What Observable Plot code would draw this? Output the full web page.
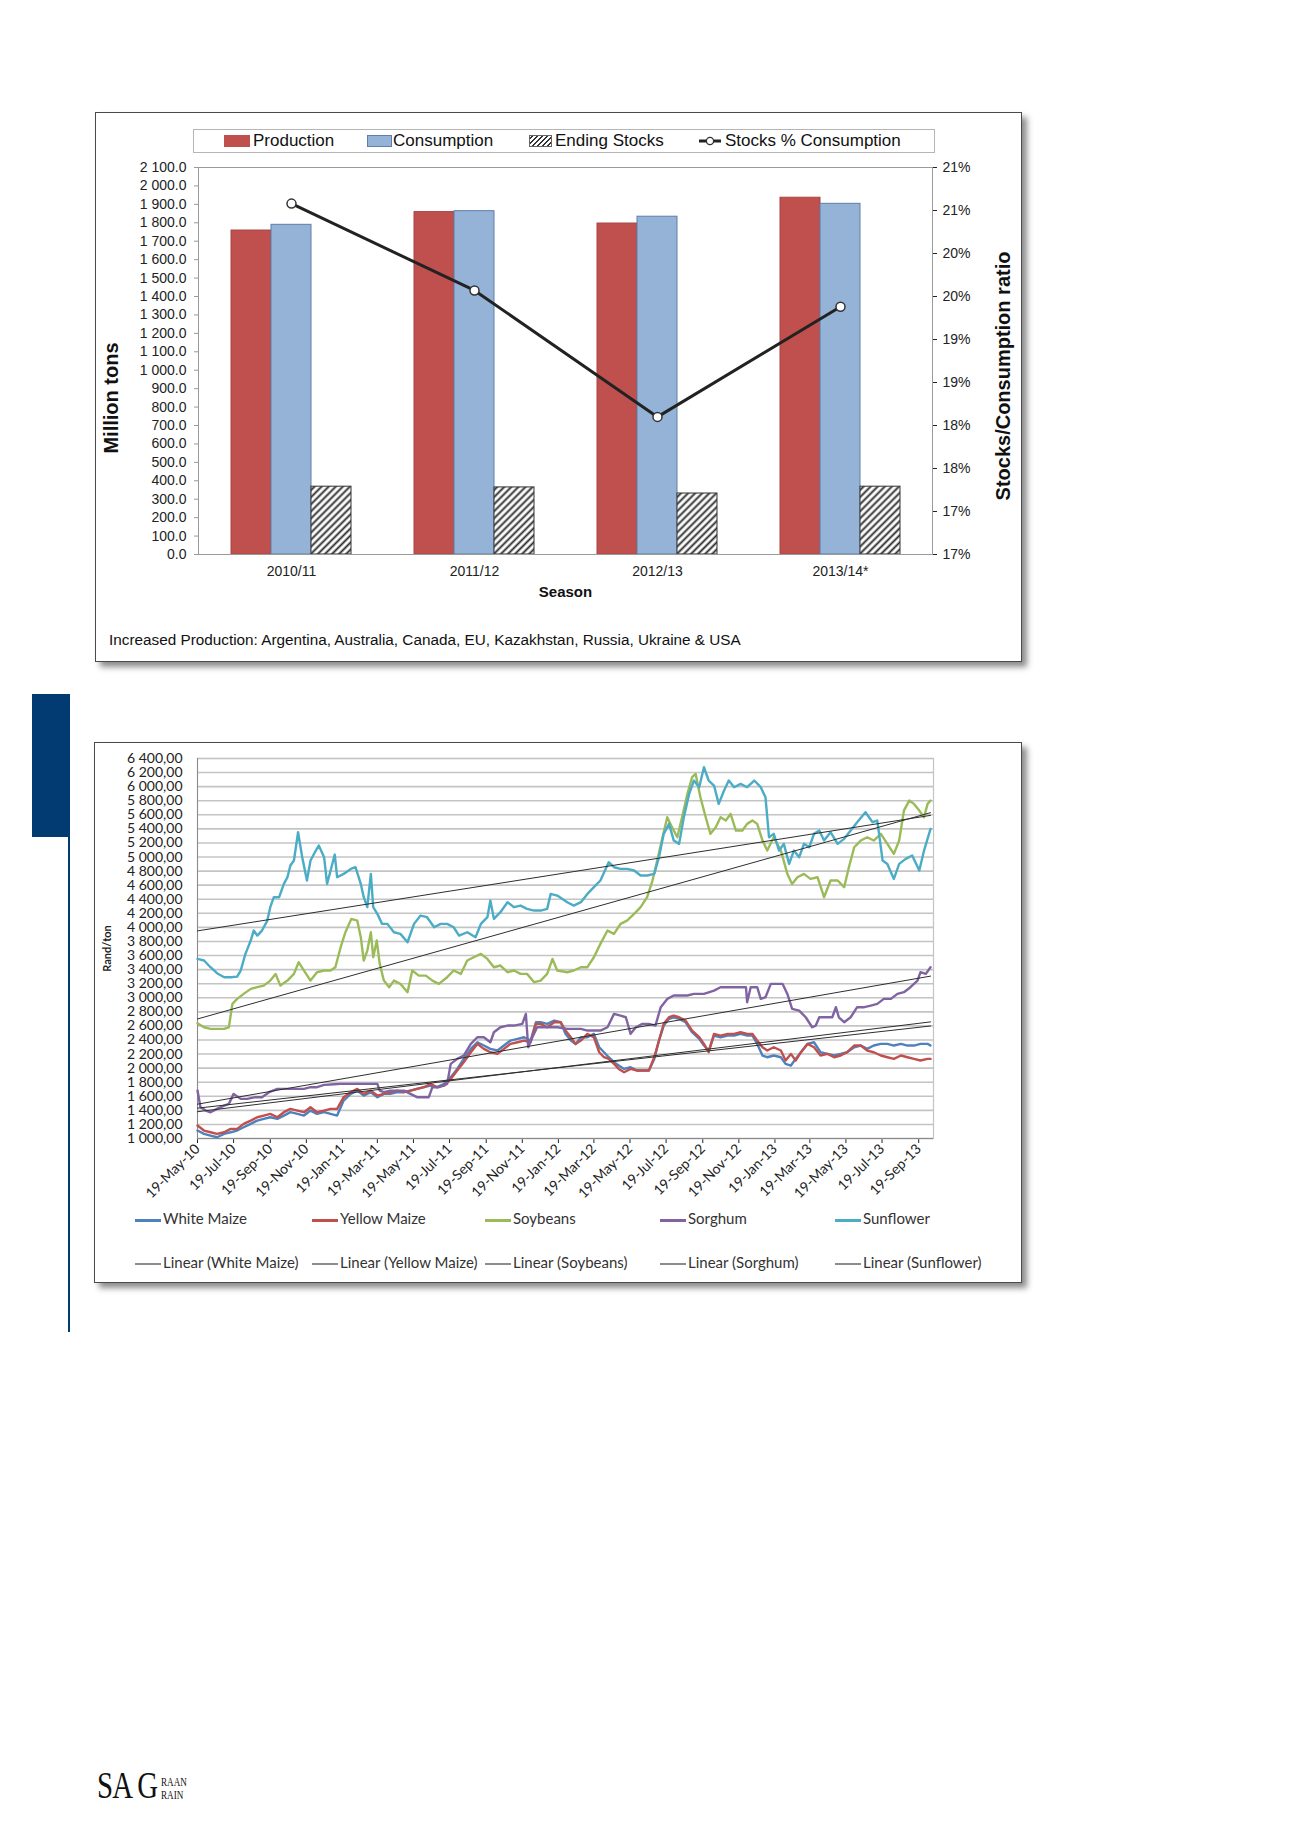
<!DOCTYPE html>
<html>
<head>
<meta charset="utf-8">
<script src="https://cdn.jsdelivr.net/npm/d3@7"></script>
<script src="https://cdn.jsdelivr.net/npm/@observablehq/plot@0.6"></script>
<style>
html, body { margin: 0; padding: 0; background: #fff; }
#page { position: relative; width: 1300px; height: 1839px; overflow: hidden; font-family: "Liberation Sans", Arial, sans-serif; color: #111; }
.card { position: absolute; background: #fff; border: 1.5px solid #4a4a4a; box-shadow: 5px 5px 6px rgba(0,0,0,0.45); box-sizing: border-box; }
.abs { position: absolute; white-space: nowrap; }
.lg1 { font-size: 17px; line-height: 24px; color: #111; }
.lg2 { font-family: Lato, "Liberation Sans", sans-serif; font-size: 15px; line-height: 18px; color: #333; }
</style>
</head>
<body>
<div id="page"></div>
<script>
// ---------------- Chart 1 data ----------------
const seasons = ["2010/11", "2011/12", "2012/13", "2013/14*"];
const production = [1758, 1858, 1796, 1936];
const consumption = [1789, 1863, 1833, 1903];
const endingStocks = [368, 364, 331, 368];
const stocksPctConsumption = [20.58, 19.57, 18.10, 19.38];
const barSeries = ["Production", "Consumption", "Ending Stocks"];
const tonTicks = [0, 100, 200, 300, 400, 500, 600, 700, 800, 900, 1000, 1100, 1200, 1300, 1400, 1500, 1600, 1700, 1800, 1900, 2000, 2100];
const ratioTicks = [16.5, 17, 17.5, 18, 18.5, 19, 19.5, 20, 20.5, 21];
const ratioTickLabels = ["17%", "17%", "18%", "18%", "19%", "19%", "20%", "20%", "21%", "21%"];
const footnote = "Increased Production: Argentina, Australia, Canada, EU, Kazakhstan, Russia, Ukraine & USA";

// ---------------- Chart 2 data (days after 19-May-2010, Rand/ton) ----------------
const startDate = "2010-05-19";
const endDate = "2013-10-14";
const xTickLabels = ["19-May-10", "19-Jul-10", "19-Sep-10", "19-Nov-10", "19-Jan-11", "19-Mar-11", "19-May-11", "19-Jul-11", "19-Sep-11", "19-Nov-11", "19-Jan-12", "19-Mar-12", "19-May-12", "19-Jul-12", "19-Sep-12", "19-Nov-12", "19-Jan-13", "19-Mar-13", "19-May-13", "19-Jul-13", "19-Sep-13"];
const priceTicks = [1000, 1200, 1400, 1600, 1800, 2000, 2200, 2400, 2600, 2800, 3000, 3200, 3400, 3600, 3800, 4000, 4200, 4400, 4600, 4800, 5000, 5200, 5400, 5600, 5800, 6000, 6200, 6400];

const maizeDays = [
  0, 11, 22, 33, 45, 56, 67, 78, 90, 101,
  112, 123, 135, 146, 157, 169, 180, 191, 202, 214,
  225, 236, 247, 259, 270, 281, 293, 304, 315, 326,
  338, 349, 360, 371, 383, 394, 405, 417, 428, 439,
  450, 462, 473, 484, 495, 507, 518, 529, 541, 552,
  563, 572, 580, 591, 603, 614,
  622, 631, 639, 648, 659, 670, 679, 687, 695, 704,
  712, 721, 732, 743, 755, 763, 772, 780, 788, 797,
  805, 814, 825, 836, 848, 856, 864, 873, 884, 896,
  907, 918, 929, 938, 946, 955, 963, 974, 986, 994,
  1003, 1011, 1020, 1031, 1042, 1053, 1065, 1076, 1087, 1098,
  1110, 1121, 1132, 1143, 1155, 1166, 1177, 1189, 1200, 1211,
  1222, 1234, 1239];
const whiteMaize = [
  1113, 1066, 1042, 1018, 1066, 1089, 1113, 1160, 1208, 1255,
  1279, 1302, 1279, 1326, 1374, 1350, 1326, 1397, 1350, 1374,
  1350, 1326, 1539, 1634, 1681, 1610, 1658, 1587, 1634, 1634,
  1658, 1658, 1681, 1705, 1729, 1752, 1729, 1776, 1871, 1989,
  2131, 2273, 2368, 2321, 2273, 2250, 2321, 2392, 2416, 2439,
  2392, 2652, 2652, 2629, 2676, 2652,
  2487, 2392, 2344, 2439, 2439, 2487, 2297, 2226, 2155, 2084,
  2037, 1989, 2013, 1966, 1966, 1966, 2131, 2392, 2605, 2700,
  2723, 2700, 2652, 2510, 2416, 2321, 2250, 2463, 2439, 2463,
  2463, 2487, 2463, 2463, 2344, 2179, 2155, 2179, 2155, 2060,
  2037, 2131, 2226, 2344, 2368, 2226, 2202, 2179, 2202, 2226,
  2297, 2321, 2273, 2321, 2344, 2344, 2321, 2344, 2321, 2321,
  2344, 2344, 2321];
const yellowMaize = [
  1184, 1113, 1089, 1066, 1089, 1137, 1137, 1208, 1255, 1302,
  1326, 1350, 1302, 1374, 1421, 1397, 1374, 1444, 1374, 1397,
  1421, 1421, 1587, 1658, 1705, 1634, 1681, 1610, 1634, 1658,
  1681, 1658, 1681, 1705, 1729, 1776, 1729, 1752, 1847, 1966,
  2084, 2226, 2344, 2273, 2226, 2202, 2273, 2344, 2368, 2392,
  2368, 2629, 2629, 2581, 2652, 2652,
  2534, 2439, 2344, 2392, 2487, 2439, 2226, 2155, 2131, 2060,
  1989, 1942, 1989, 1966, 1966, 1966, 2155, 2392, 2629, 2723,
  2747, 2723, 2676, 2534, 2439, 2344, 2226, 2487, 2463, 2487,
  2487, 2510, 2487, 2487, 2392, 2297, 2250, 2297, 2250, 2108,
  2202, 2108, 2226, 2344, 2297, 2179, 2202, 2155, 2179, 2226,
  2321, 2321, 2250, 2226, 2179, 2155, 2131, 2179, 2155, 2131,
  2108, 2131, 2131];
const soybeans = [
  [0, 2638], [11, 2581], [22, 2558], [33, 2558], [45, 2558], [53, 2581], [59, 2913], [67, 2984], [78, 3055], [90, 3126],
  [101, 3150], [112, 3173], [123, 3244], [132, 3339], [140, 3173], [152, 3244], [163, 3339], [171, 3505], [180, 3387], [191, 3244],
  [202, 3363], [214, 3387], [225, 3387], [233, 3434], [242, 3718], [250, 3931], [260, 4121], [270, 4097], [276, 3860], [281, 3529],
  [287, 3671], [293, 3931], [297, 3576], [303, 3813], [308, 3481], [315, 3244], [324, 3150], [332, 3244], [343, 3197], [355, 3079],
  [363, 3387], [374, 3315], [386, 3315], [397, 3244], [408, 3197], [422, 3292], [433, 3387], [445, 3339], [456, 3529], [467, 3576],
  [479, 3623], [490, 3552], [501, 3434], [512, 3458], [524, 3363], [535, 3387], [546, 3339], [557, 3339], [569, 3221], [580, 3244],
  [591, 3339], [600, 3552], [608, 3387], [625, 3363], [636, 3387], [648, 3434], [659, 3434], [670, 3576], [681, 3766], [693, 3955],
  [704, 3908], [715, 4050], [726, 4097], [738, 4192], [749, 4287], [760, 4429], [769, 4666], [777, 4950], [786, 5281], [794, 5566],
  [802, 5424], [811, 5281], [819, 5566], [828, 5897], [836, 6134], [842, 6181], [850, 5850], [859, 5566], [867, 5329], [876, 5424],
  [884, 5566], [893, 5518], [901, 5613], [910, 5376], [921, 5376], [929, 5471], [938, 5518], [946, 5471], [955, 5234], [963, 5092],
  [974, 5281], [986, 5092], [997, 4760], [1005, 4618], [1014, 4713], [1025, 4760], [1036, 4689], [1048, 4713], [1059, 4429], [1070, 4666],
  [1082, 4666], [1093, 4571], [1101, 4855], [1110, 5139], [1121, 5234], [1132, 5281], [1143, 5234], [1155, 5329], [1166, 5187], [1177, 5045],
  [1186, 5234], [1194, 5660], [1203, 5802], [1211, 5755], [1220, 5660], [1228, 5566], [1234, 5755], [1239, 5802]];
const sorghum = [
  [0, 1681], [5, 1444], [14, 1397], [22, 1373], [33, 1421], [45, 1468], [53, 1492], [61, 1634], [73, 1563], [84, 1563],
  [98, 1587], [109, 1587], [121, 1658], [135, 1705], [157, 1705], [180, 1705], [191, 1729], [202, 1729], [214, 1762], [225, 1767],
  [242, 1776], [270, 1776], [295, 1776], [304, 1776], [308, 1681], [315, 1658], [326, 1681], [349, 1681], [360, 1634], [371, 1587],
  [391, 1587], [397, 1729], [408, 1729], [422, 1776], [428, 2060], [439, 2131], [450, 2179], [462, 2344], [473, 2439], [484, 2439],
  [495, 2368], [501, 2510], [512, 2581], [524, 2605], [535, 2605], [549, 2629], [555, 2771], [559, 2297], [566, 2439], [574, 2581],
  [586, 2581], [597, 2581], [608, 2581], [625, 2558], [636, 2558], [648, 2558], [659, 2534], [670, 2534], [681, 2534], [693, 2581],
  [704, 2771], [715, 2747], [724, 2723], [732, 2487], [741, 2581], [752, 2629], [763, 2629], [774, 2605], [783, 2866], [794, 2984],
  [805, 3032], [828, 3032], [839, 3055], [856, 3055], [873, 3102], [884, 3150], [907, 3150], [927, 3150], [929, 2937], [935, 3150],
  [946, 3150], [952, 2984], [960, 3008], [969, 3197], [989, 3197], [997, 3055], [1005, 2842], [1017, 2818], [1028, 2723], [1039, 2581],
  [1045, 2605], [1051, 2723], [1073, 2723], [1079, 2866], [1084, 2723], [1093, 2652], [1104, 2723], [1115, 2866], [1127, 2866], [1138, 2889],
  [1149, 2913], [1160, 2984], [1172, 2984], [1183, 3055], [1194, 3079], [1205, 3150], [1217, 3244], [1222, 3363], [1231, 3339], [1239, 3434]];
const sunflower = [
  [0, 3552], [11, 3530], [22, 3434], [33, 3349], [45, 3292], [56, 3292], [67, 3300], [73, 3387], [81, 3623], [90, 3813],
  [95, 3955], [101, 3884], [109, 3955], [118, 4097], [123, 4287], [129, 4429], [138, 4429], [146, 4618], [152, 4713], [157, 4879],
  [163, 4950], [170, 5352], [177, 4997], [185, 4666], [191, 4950], [200, 5092], [205, 5163], [214, 4997], [219, 4618], [225, 4808],
  [232, 5035], [236, 4713], [247, 4760], [259, 4831], [267, 4855], [276, 4618], [281, 4429], [287, 4287], [293, 4760], [297, 4287],
  [304, 4192], [312, 4050], [321, 4050], [332, 3931], [343, 3908], [355, 3789], [366, 4050], [377, 4168], [388, 4145], [400, 4002],
  [411, 4050], [422, 4050], [433, 4002], [442, 3884], [456, 3931], [470, 3860], [479, 4050], [490, 4145], [495, 4381], [501, 4121],
  [512, 4216], [524, 4358], [535, 4287], [546, 4310], [557, 4263], [569, 4239], [580, 4239], [591, 4263], [597, 4476], [608, 4452],
  [625, 4358], [636, 4310], [648, 4358], [659, 4476], [670, 4571], [681, 4666], [695, 4926], [704, 4855], [715, 4831], [726, 4831],
  [738, 4808], [749, 4737], [760, 4737], [772, 4760], [780, 4997], [788, 5329], [797, 5471], [805, 5234], [814, 5187], [822, 5566],
  [831, 5897], [839, 6087], [848, 5992], [856, 6276], [864, 6087], [873, 6016], [881, 5755], [890, 5945], [898, 6087], [907, 5992],
  [918, 6039], [929, 5992], [941, 6087], [952, 5992], [960, 5850], [966, 5281], [974, 5329], [983, 5092], [991, 5187], [1000, 4902],
  [1008, 5092], [1017, 4997], [1025, 5187], [1034, 5139], [1042, 5329], [1051, 5376], [1059, 5234], [1070, 5352], [1082, 5187], [1093, 5258],
  [1104, 5376], [1115, 5495], [1129, 5637], [1141, 5495], [1149, 5518], [1158, 4950], [1166, 4902], [1177, 4689], [1186, 4902], [1197, 4973],
  [1208, 5021], [1220, 4808], [1228, 5092], [1239, 5400]];
const crops = ["White Maize", "Yellow Maize", "Soybeans", "Sorghum", "Sunflower"];

// ---------------- helpers ----------------
const page = document.getElementById("page");
const F1 = '"Liberation Sans", Arial, sans-serif';
const F2 = 'Lato, "Liberation Sans", sans-serif';
function group3(s) { return s.replace(/\B(?=(\d{3})+(?!\d))/g, " "); }
function fmtTons(d) { const [i, f] = d.toFixed(1).split("."); return group3(i) + "." + f; }
function fmtPrice(d) { const [i, f] = d.toFixed(2).split("."); return group3(i) + "," + f; }
function put(el, left, top) { el.style.position = "absolute"; el.style.left = left + "px"; el.style.top = top + "px"; page.appendChild(el); return el; }
function div(cls, html, css) { const e = document.createElement("div"); e.className = cls; e.innerHTML = html; if (css) e.style.cssText = css; page.appendChild(e); return e; }

// page furniture
div("abs", "", "left:32px;top:694px;width:37px;height:143px;background:#023a72;");
div("abs", "", "left:68px;top:694px;width:2px;height:638px;background:#023a72;");
div("card", "", "left:95px;top:112px;width:927px;height:550px;");
div("card", "", "left:94px;top:742px;width:928px;height:541px;");

// ---------------- Chart 1 ----------------
const barFill = {"Production": "#c0504d", "Consumption": "#95b3d7", "Ending Stocks": "url(#hatch)"};
const barStroke = {"Production": "#a84543", "Consumption": "#5f7ea8", "Ending Stocks": "#333"};
const barRows = seasons.flatMap((s, i) => [
  {season: s, series: "Production", value: production[i]},
  {season: s, series: "Consumption", value: consumption[i]},
  {season: s, series: "Ending Stocks", value: endingStocks[i]}
]);
const ratioRows = seasons.map((s, i) => ({season: s, ratio: stocksPctConsumption[i]}));
const ratioLabel = new Map(ratioTicks.map((t, i) => [t, ratioTickLabels[i]]));

const W1 = 927, H1 = 550, M1 = {marginLeft: 103, marginRight: 90, marginTop: 55, marginBottom: 108};
const S1 = {background: "transparent", fontFamily: F1, fontSize: "14px", color: "#222", overflow: "visible"};

// grouped bars (faceted by season)
const bars = Plot.plot({
  width: W1, height: H1, ...M1, style: S1,
  fx: {domain: seasons, paddingInner: 0.335, paddingOuter: 0.1675, axis: "bottom", label: null, tickSize: 0, tickPadding: 12},
  x: {domain: barSeries, padding: 0, axis: null},
  y: {domain: [0, 2100], axis: null},
  color: {type: "identity"},
  marks: [
    Plot.barY(barRows, {fx: "season", x: "series", y: "value", fill: d => barFill[d.series], stroke: d => barStroke[d.series], strokeWidth: 1})
  ]
});
const NS = "http://www.w3.org/2000/svg";
const defs = document.createElementNS(NS, "defs");
const pat = document.createElementNS(NS, "pattern");
pat.setAttribute("id", "hatch"); pat.setAttribute("patternUnits", "userSpaceOnUse");
pat.setAttribute("width", "5"); pat.setAttribute("height", "5"); pat.setAttribute("patternTransform", "rotate(45)");
const pr = document.createElementNS(NS, "rect"); pr.setAttribute("width", "5"); pr.setAttribute("height", "5"); pr.setAttribute("fill", "#fff");
const pl = document.createElementNS(NS, "line"); pl.setAttribute("x1", "2.5"); pl.setAttribute("x2", "2.5"); pl.setAttribute("y1", "0"); pl.setAttribute("y2", "5"); pl.setAttribute("stroke", "#2a2a2a"); pl.setAttribute("stroke-width", "1.9");
pat.appendChild(pr); pat.appendChild(pl); defs.appendChild(pat); bars.insertBefore(defs, bars.firstChild);
put(bars, 95, 112);

// left axis (tons) on the full plot frame
const leftAxis = Plot.plot({
  width: W1, height: H1, ...M1, style: S1,
  x: {domain: [0, 1], axis: null},
  y: {domain: [0, 2100], label: null},
  marks: [
    Plot.axisY({ticks: tonTicks, tickFormat: fmtTons, tickSize: 4, tickPadding: 8, label: null, stroke: "#9a9a9a"})
  ]
});
put(leftAxis, 95, 112);

// ratio line, right axis, frame, titles
const overlay = Plot.plot({
  width: W1, height: H1, ...M1, style: S1,
  x: {type: "point", domain: seasons, padding: 0.5, axis: null},
  y: {domain: [16.5, 21], ticks: ratioTicks, tickFormat: d => ratioLabel.get(d), axis: "right", tickSize: 4, tickPadding: 6, label: null},
  marks: [
    Plot.frame({stroke: "#9a9a9a"}),
    Plot.line(ratioRows, {x: "season", y: "ratio", stroke: "#222", strokeWidth: 3}),
    Plot.dot(ratioRows, {x: "season", y: "ratio", r: 4.5, fill: "#fff", stroke: "#333", strokeWidth: 1.5}),
    Plot.text(["Million tons"], {frameAnchor: "left", dx: -87, dy: 37, rotate: -90, textAnchor: "middle", fontWeight: "bold", fontSize: 20, fill: "#111"}),
    Plot.text(["Stocks/Consumption ratio"], {frameAnchor: "right", dx: 71, dy: 15, rotate: -90, textAnchor: "middle", fontWeight: "bold", fontSize: 20, fill: "#111"}),
    Plot.text(["Season"], {frameAnchor: "bottom", dy: 42, fontWeight: "bold", fontSize: 15, fill: "#111"})
  ]
});
put(overlay, 95, 112);

// legend box chart 1
const lg = div("abs lg1", "", "left:193px;top:129px;width:742px;height:24px;border:1px solid #b5b5b5;box-sizing:border-box;");
lg.innerHTML =
  `<div class="abs" style="left:30px;top:5px;width:26px;height:12px;background:#c0504d;"></div>` +
  `<div class="abs" style="left:59px;top:-1px;">${barSeries[0]}</div>` +
  `<div class="abs" style="left:173px;top:5px;width:25px;height:12px;background:#95b3d7;box-sizing:border-box;border:1px solid #5f7ea8;"></div>` +
  `<div class="abs" style="left:199px;top:-1px;">${barSeries[1]}</div>` +
  `<div class="abs" style="left:335px;top:5px;width:23px;height:12px;box-sizing:border-box;border:1px solid #666;background:repeating-linear-gradient(-45deg,#fff 0 2px,#333 2px 3.5px);"></div>` +
  `<div class="abs" style="left:361px;top:-1px;">${barSeries[2]}</div>` +
  `<svg class="abs" style="left:504px;top:4px;" width="24" height="14"><line x1="1" y1="7" x2="23" y2="7" stroke="#222" stroke-width="3"/><circle cx="12" cy="7" r="3.6" fill="#fff" stroke="#333" stroke-width="1.3"/></svg>` +
  `<div class="abs" style="left:531px;top:-1px;">Stocks % Consumption</div>`;

div("abs", footnote, "left:109px;top:631px;font-size:15.3px;line-height:18px;color:#111;");

// ---------------- Chart 2 ----------------
const t0 = new Date(startDate + "T00:00:00Z");
const t1 = new Date(endDate + "T00:00:00Z");
const parseTick = d3.utcParse("%d-%b-%y");
const fmtTick = d3.utcFormat("%d-%b-%y");
const xTicks = xTickLabels.map(parseTick);
const toRows = (pairs) => pairs.map(([d, v]) => ({date: d3.utcDay.offset(t0, d), price: v}));
const series = [
  {name: crops[0], color: "#4f81bd", rows: toRows(maizeDays.map((d, i) => [d, whiteMaize[i]]))},
  {name: crops[1], color: "#c0504d", rows: toRows(maizeDays.map((d, i) => [d, yellowMaize[i]]))},
  {name: crops[2], color: "#9bbb59", rows: toRows(soybeans)},
  {name: crops[3], color: "#8064a2", rows: toRows(sorghum)},
  {name: crops[4], color: "#4bacc6", rows: toRows(sunflower)}
];

const prices = Plot.plot({
  width: 928, height: 470, marginLeft: 103, marginRight: 89, marginTop: 16, marginBottom: 74,
  style: {background: "transparent", fontFamily: F2, fontSize: "14px", color: "#222", overflow: "visible"},
  x: {type: "utc", domain: [t0, t1], ticks: xTicks, tickFormat: fmtTick, tickRotate: -45, tickSize: 5, tickPadding: 3, label: null},
  y: {domain: [1000, 6400], ticks: priceTicks, tickFormat: fmtPrice, tickSize: 0, tickPadding: 15, label: null},
  marks: [
    Plot.gridY(priceTicks, {stroke: "#c4c4c4", strokeOpacity: 1, strokeWidth: 1.6}),
    Plot.frame({stroke: "#c4c4c4", strokeWidth: 1.2}),
    Plot.ruleX([t0], {stroke: "#8a8a8a"}),
    Plot.ruleY([1000], {stroke: "#8a8a8a"}),
    ...series.map(s => Plot.line(s.rows, {x: "date", y: "price", stroke: s.color, strokeWidth: 2.4})),
    ...series.map(s => Plot.linearRegressionY(s.rows, {x: "date", y: "price", stroke: "#2e2e2e", strokeWidth: 1, ci: 0})),
    Plot.text(["Rand/ton"], {frameAnchor: "left", dx: -90, rotate: -90, textAnchor: "middle", fontWeight: "bold", fontSize: 11, fill: "#222", fontFamily: F2})
  ]
});
put(prices, 94, 742);

// legend chart 2
const legX = [135, 312, 485, 660, 835];
series.forEach((s, i) => {
  const a = div("abs lg2", "", `left:${legX[i]}px;top:1209px;`);
  a.innerHTML = `<span style="display:inline-block;width:26px;height:3px;background:${s.color};vertical-align:middle;margin-right:2px;"></span>${s.name}`;
  const b = div("abs lg2", "", `left:${legX[i]}px;top:1253px;`);
  b.innerHTML = `<span style="display:inline-block;width:26px;height:1.5px;background:#8c8c8c;vertical-align:middle;margin-right:2px;"></span>Linear (${s.name})`;
});

// magazine logo
div("abs", "SA G", 'left:97px;top:1767px;font-family:"Liberation Serif","DejaVu Serif",serif;font-size:37px;line-height:37px;color:#111;letter-spacing:-1px;transform:scaleX(0.78);transform-origin:0 0;');
div("abs", "RAAN", 'left:161px;top:1776px;font-family:"Liberation Serif",serif;font-size:13px;line-height:11px;color:#111;transform:scaleX(0.7);transform-origin:0 0;');
div("abs", "RAIN", 'left:161px;top:1789px;font-family:"Liberation Serif",serif;font-size:13px;line-height:11px;color:#111;transform:scaleX(0.7);transform-origin:0 0;');
</script>
</body>
</html>
